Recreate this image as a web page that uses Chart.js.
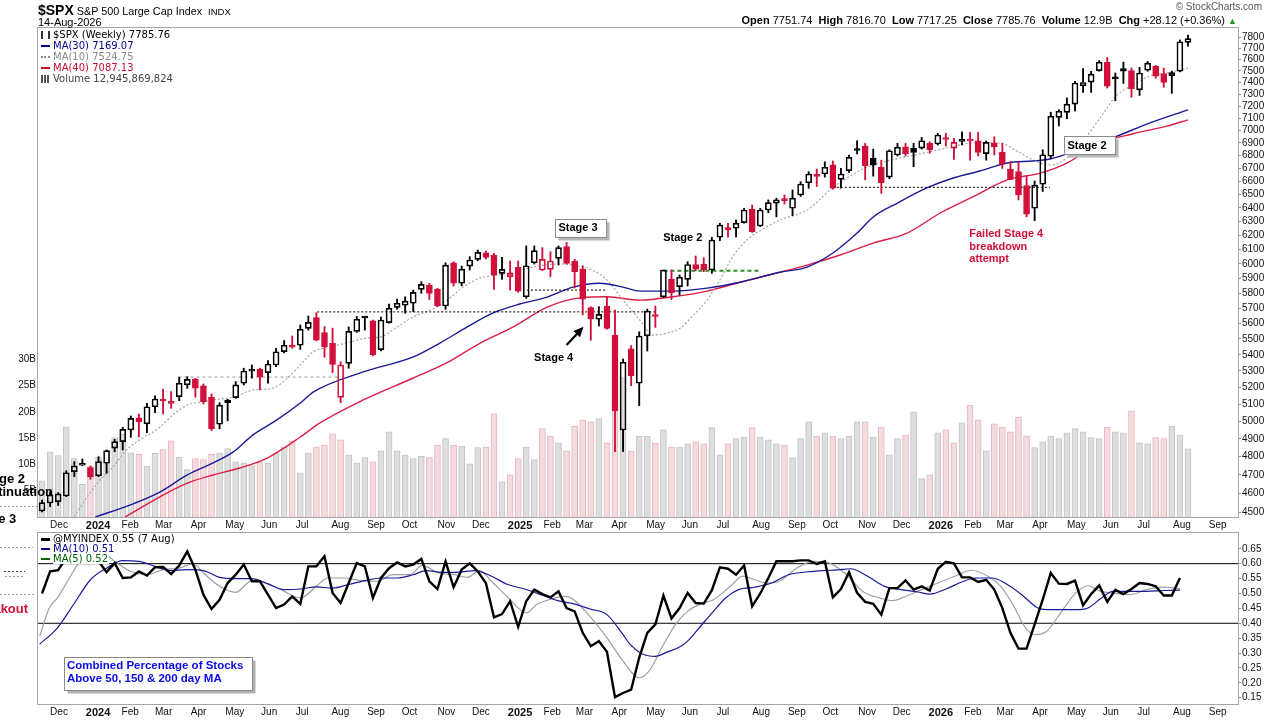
<!DOCTYPE html>
<html>
<head>
<meta charset="utf-8">
<title>$SPX weekly</title>
<script src="https://cdn.jsdelivr.net/npm/chart.js@4.4.1/dist/chart.umd.min.js"></script>
<style>
  html, body { margin: 0; padding: 0; background: #fff; }
  #page { position: relative; width: 1280px; height: 720px; overflow: hidden; font-family: "Liberation Sans", Arial, sans-serif; color: #000; }
  .box { position: absolute; left: 0; width: 1280px; }
  .t { position: absolute; white-space: nowrap; }
  .leg { position: absolute; font-family: "DejaVu Sans", Verdana, sans-serif; font-size: 10px; white-space: nowrap; }
  .leg div { display: flex; align-items: center; }
  .leg .txt { background: #fff; padding-right: 1px; }
  .mk { display: inline-block; width: 9px; height: 0; margin-right: 3px; border-top: 2px solid; }
</style>
</head>
<body>
<div id="page">
  <div class="box" style="top:0;height:532px"><canvas id="priceChart"></canvas></div>
  <div class="box" style="top:520px;height:200px"><canvas id="breadthChart"></canvas></div>

  <div class="t" style="left:38px;top:1px"><b style="font-size:14px">$SPX</b><span style="font-size:10.8px;margin-left:3px">S&amp;P 500 Large Cap Index</span><span style="font-size:9.5px;margin-left:6px">INDX</span></div>
  <div class="t" style="left:38px;top:16px;font-size:11px">14-Aug-2026</div>
  <div class="t" style="right:18px;top:1px;font-size:10px;color:#555">&copy; StockCharts.com</div>
  <div class="t" style="right:43px;top:14px;font-size:11px"><b>Open</b> 7751.74 &nbsp;<b>High</b> 7816.70 &nbsp;<b>Low</b> 7717.25 &nbsp;<b>Close</b> 7785.76 &nbsp;<b>Volume</b> 12.9B &nbsp;<b>Chg</b> +28.12 (+0.36%) <span style="color:#1f9a1f;font-size:9px">&#9650;</span></div>

  <div class="leg" style="left:41px;top:29px;line-height:11px">
    <div><span style="display:inline-block;width:9px;height:8px;margin-right:3px;border-left:2px solid #333;border-right:2px solid #333;box-sizing:border-box"></span><span class="txt">$SPX (Weekly) 7785.76</span></div>
    <div style="color:#00008b"><span class="mk" style="border-color:#00008b"></span><span class="txt">MA(30) 7169.07</span></div>
    <div style="color:#8a8a8a"><span class="mk" style="border-top:2px dotted #8a8a8a"></span><span class="txt">MA(10) 7524.75</span></div>
    <div style="color:#c8102e"><span class="mk" style="border-color:#c8102e"></span><span class="txt">MA(40) 7087.13</span></div>
    <div style="color:#444"><span style="display:inline-block;width:9px;height:8px;margin-right:3px;background:linear-gradient(90deg,#555 0 2px,#fff 2px 3px,#555 3px 5px,#fff 5px 6px,#555 6px 8px,#fff 8px)"></span><span class="txt">Volume 12,945,869,824</span></div>
  </div>

  <div class="leg" style="left:41px;top:534px;line-height:10px">
    <div><span class="mk" style="border-color:#000;border-top-width:3px"></span><span class="txt">@MYINDEX 0.55 (7 Aug)</span></div>
    <div style="color:#00008b"><span class="mk" style="border-color:#00008b"></span><span class="txt">MA(10) 0.51</span></div>
    <div style="color:#006400"><span class="mk" style="border-color:#006400"></span><span class="txt">MA(5) 0.52</span></div>
  </div>
</div>

<script>
// ---- weekly $SPX candles, week 0 = Fri 24 Nov 2023, last = Fri 14 Aug 2026
const firstFriday = Date.UTC(2023, 10, 24);

const opens = [
  4507, 4549, 4556, 4586, 4717, 4752, 4739, 4695, 4763, 4847,
  4884, 4950, 5021, 4985, 5085, 5122, 5115, 5145, 5215, 5251,
  5209, 5141, 4983, 5109, 5139, 5225, 5299, 5311, 5290, 5337,
  5420, 5455, 5460, 5568, 5637, 5540, 5472, 5141, 5347, 5548,
  5640, 5616, 5433, 5605, 5705, 5719, 5732, 5825, 5854, 5825,
  5714, 6007, 5866, 5984, 6031, 6077, 6061, 5934, 5911, 5975,
  5775, 6007, 5957, 5961, 6038, 6120, 6019, 5963, 5703, 5627,
  5714, 5525, 4950, 5437, 5225, 5520, 5652, 5775, 5895, 5843,
  5893, 5995, 5998, 5957, 6187, 6245, 6252, 6292, 6390, 6268,
  6385, 6435, 6462, 6398, 6497, 6590, 6643, 6657, 6727, 6616,
  6683, 6843, 6876, 6779, 6709, 6633, 6805, 6870, 6859, 6859,
  6897, 6892, 6932, 6859, 6913, 6916, 6918, 6815, 6902, 6825,
  6695, 6675, 6569, 6398, 6578, 6795, 7108, 7149, 7218, 7372,
  7404, 7502, 7574, 7440, 7520, 7502, 7338, 7506, 7540, 7478,
  7459, 7497, 7751.74
];
const highs = [
  4565, 4609, 4604, 4722, 4772, 4787, 4748, 4800, 4837, 4897,
  4966, 5031, 5043, 5105, 5149, 5189, 5175, 5262, 5265, 5255,
  5221, 5161, 5109, 5129, 5235, 5317, 5337, 5317, 5364, 5441,
  5490, 5519, 5590, 5648, 5670, 5579, 5569, 5357, 5577, 5645,
  5645, 5622, 5641, 5727, 5760, 5775, 5820, 5877, 5866, 5832,
  6007, 6014, 5984, 6049, 6096, 6089, 6073, 6045, 6019, 6019,
  6125, 6125, 6113, 6084, 6125, 6150, 6031, 5986, 5709, 5709,
  5775, 5687, 5374, 5458, 5546, 5694, 5714, 5957, 5957, 5923,
  6014, 6054, 6042, 6186, 6288, 6288, 6311, 6398, 6422, 6398,
  6460, 6473, 6497, 6535, 6598, 6675, 6695, 6752, 6758, 6700,
  6805, 6918, 6897, 6851, 6764, 6846, 6897, 6897, 6897, 6945,
  6910, 6978, 6978, 6937, 6990, 6985, 6985, 6916, 6950, 6897,
  6752, 6752, 6643, 6603, 6846, 7150, 7171, 7269, 7410, 7520,
  7497, 7591, 7617, 7482, 7577, 7525, 7531, 7583, 7548, 7525,
  7499, 7774, 7816.70
];
const lows = [
  4503, 4530, 4536, 4583, 4690, 4750, 4676, 4690, 4708, 4827,
  4837, 4908, 4911, 4935, 5050, 5043, 5076, 5121, 5195, 5141,
  5101, 4946, 4957, 5003, 5135, 5215, 5256, 5185, 5225, 5326,
  5412, 5441, 5434, 5557, 5488, 5385, 5290, 5109, 5317, 5542,
  5557, 5393, 5424, 5601, 5692, 5666, 5677, 5798, 5757, 5708,
  5692, 5848, 5848, 5957, 6021, 6033, 5825, 5893, 5820, 5805,
  5765, 5998, 5952, 5911, 5991, 5998, 5834, 5655, 5492, 5583,
  5562, 4828, 4828, 5210, 5091, 5424, 5574, 5771, 5757, 5786,
  5848, 5952, 5945, 5934, 6163, 6187, 6190, 6288, 6222, 6263,
  6365, 6335, 6430, 6343, 6486, 6548, 6561, 6633, 6541, 6548,
  6668, 6813, 6612, 6640, 6509, 6620, 6797, 6797, 6713, 6851,
  6818, 6883, 6876, 6770, 6884, 6764, 6797, 6764, 6805, 6700,
  6614, 6460, 6335, 6306, 6524, 6776, 7037, 7096, 7160, 7316,
  7316, 7497, 7353, 7245, 7393, 7275, 7290, 7497, 7437, 7360,
  7308, 7492, 7717.25
];
const closes = [
  4551, 4592, 4597, 4711, 4748, 4763, 4690, 4772, 4833, 4884,
  4954, 5017, 4998, 5085, 5131, 5119, 5105, 5225, 5249, 5195,
  5115, 4957, 5095, 5125, 5215, 5300, 5303, 5262, 5343, 5419,
  5460, 5448, 5562, 5607, 5492, 5451, 5341, 5337, 5549, 5627,
  5635, 5399, 5622, 5699, 5732, 5746, 5805, 5859, 5798, 5715,
  5991, 5866, 5963, 6026, 6080, 6045, 5923, 5961, 5934, 5812,
  5986, 6092, 6031, 6019, 6113, 6003, 5945, 5760, 5629, 5659,
  5568, 5062, 5354, 5271, 5519, 5681, 5645, 5957, 5802, 5907,
  5995, 5963, 5957, 6167, 6275, 6242, 6288, 6385, 6227, 6385,
  6440, 6460, 6455, 6473, 6580, 6657, 6638, 6709, 6548, 6657,
  6786, 6840, 6721, 6725, 6590, 6838, 6867, 6813, 6825, 6918,
  6846, 6964, 6928, 6905, 6932, 6928, 6825, 6905, 6871, 6732,
  6616, 6497, 6355, 6572, 6807, 7117, 7158, 7218, 7396, 7400,
  7473, 7577, 7368, 7432, 7497, 7346, 7482, 7568, 7454, 7401,
  7485, 7757.64, 7785.76
];
// weekly volume, billions of shares
const volumes = [
  6.9, 12.4, 11.7, 17.1, 11.1, 6.2, 9.7, 11.4, 10.3, 15.1,
  15.7, 12.2, 11.9, 9.7, 12.1, 12.8, 14.5, 11.4, 9.0, 11.1,
  10.9, 11.9, 12.2, 13.0, 10.5, 10.3, 9.8, 10.5, 10.2, 12.1,
  13.3, 14.4, 8.4, 12.2, 13.3, 13.7, 15.8, 14.7, 11.8, 10.3,
  11.3, 10.5, 12.6, 16.2, 12.6, 11.8, 11.1, 11.6, 11.3, 13.7,
  14.9, 13.7, 13.5, 10.1, 13.2, 13.3, 19.6, 6.7, 8.0, 11.1,
  13.3, 10.9, 16.8, 15.4, 14.1, 12.6, 17.3, 18.5, 18.1, 18.7,
  14.1, 22.0, 26.5, 12.5, 15.4, 15.4, 14.1, 16.6, 13.3, 13.3,
  13.9, 14.3, 13.9, 17.0, 11.8, 13.9, 14.9, 15.2, 17.0, 15.2,
  14.7, 13.9, 13.7, 11.3, 14.9, 18.1, 15.4, 16.0, 15.4, 14.9,
  15.4, 18.1, 18.1, 15.2, 17.1, 11.8, 14.9, 15.6, 20.0, 7.3,
  8.0, 16.0, 16.6, 14.1, 17.9, 21.3, 18.5, 12.6, 17.7, 17.1,
  16.2, 19.0, 15.4, 13.2, 14.3, 15.4, 14.9, 16.0, 16.8, 16.2,
  15.1, 14.9, 17.1, 16.2, 16.0, 20.2, 14.1, 13.9, 15.1, 14.9,
  17.3, 15.6, 12.95
];

// moving averages: [week, value]
const ma30 = [[6.6,4476],[11.3,4545],[14.6,4607],[18,4699],[21.2,4765],[23.7,4826],[26.1,4921],[29.1,5008],[32,5107],[33.6,5172],[39.8,5294],[46,5387],[49.3,5474],[52.7,5577],[55.9,5668],[59.2,5727],[62.6,5773],[65.8,5840],[69.1,5866],[72,5840],[74.1,5813],[78.2,5813],[82.4,5833],[86.5,5873],[91.4,5941],[94.8,5977],[98,6075],[101,6217],[103,6334],[106,6437],[109.7,6552],[112.9,6626],[116.2,6680],[119.6,6742],[122.8,6758],[124.9,6773],[129,6859],[133.2,6955],[137.3,7062],[142,7169.07]];
const ma10 = [[3.7,4460],[5.6,4582],[7.2,4672],[8.8,4743],[10.5,4839],[12.1,4893],[14.6,4966],[16.2,5037],[18,5095],[19.6,5113],[21.2,5125],[23.7,5143],[26.1,5184],[28.6,5196],[30.4,5257],[32,5337],[33.6,5419],[35.7,5450],[37.8,5475],[40.3,5506],[41.9,5512],[44,5577],[46,5642],[48.1,5687],[50.2,5753],[52.2,5841],[54.3,5902],[56.4,5922],[58.4,5943],[60.8,5977],[63.8,5998],[65.8,5991],[67.9,5963],[70,5889],[72,5753],[74.1,5620],[75.7,5525],[77.4,5537],[79.1,5570],[80.7,5654],[82.4,5753],[84,5889],[85.6,6049],[87.4,6171],[89.8,6261],[91.4,6311],[94.8,6385],[98,6552],[101,6672],[103,6727],[106.3,6781],[108.8,6813],[112.1,6860],[115.4,6900],[118.7,6900],[120.8,6836],[122.8,6766],[124.9,6727],[127,6781],[129,6916],[131.1,7102],[133.2,7293],[135.2,7379],[137.3,7456],[139.4,7482],[142,7524.75]];
const ma40 = [[10.3,4476],[14.6,4582],[18,4655],[21.2,4699],[24.5,4737],[27.9,4792],[32,4910],[34.4,4990],[39.8,5125],[46,5257],[50.2,5351],[54.3,5474],[58.4,5577],[62.6,5707],[66.7,5768],[70,5775],[74.1,5753],[78.2,5775],[82.4,5813],[86.5,5873],[91.4,5941],[94.8,5991],[98.9,6061],[103,6145],[107.2,6217],[111.3,6363],[115.4,6484],[119.6,6611],[123.7,6664],[127,6742],[131.1,6900],[135.2,6974],[139.4,7036],[142,7087.13]];

// horizontal levels drawn on the price panel: [fromWeek, toWeek, price]
const levels = [[16.9, 36.6, 5263], [34.1, 76.0, 5675], [60.1, 69.8, 5820], [77.0, 89.0, 5952], [98.0, 124.9, 6555]];

// lower panel: combined % of stocks above 50/150/200 day MA, weekly to 7 Aug 2026
const myIndex = [
  0.50, 0.574, 0.578, 0.62, 0.635, 0.63, 0.615, 0.608, 0.572, 0.602,
  0.552, 0.554, 0.574, 0.56, 0.588, 0.589, 0.565, 0.594, 0.641, 0.58,
  0.496, 0.448, 0.479, 0.535, 0.563, 0.597, 0.541, 0.541, 0.496, 0.451,
  0.463, 0.49, 0.465, 0.591, 0.591, 0.625, 0.502, 0.468, 0.535, 0.602,
  0.591, 0.485, 0.552, 0.585, 0.604, 0.591, 0.597, 0.616, 0.541, 0.515,
  0.608, 0.521, 0.58, 0.601, 0.574, 0.535, 0.42, 0.431, 0.474, 0.388,
  0.474, 0.513, 0.498, 0.487, 0.507, 0.451, 0.44, 0.368, 0.323, 0.34,
  0.304, 0.152, 0.166, 0.177, 0.285, 0.368, 0.396, 0.493, 0.416, 0.451,
  0.502, 0.468, 0.466, 0.511, 0.588, 0.583, 0.563, 0.594, 0.457, 0.50,
  0.552, 0.608, 0.608, 0.608, 0.611, 0.611, 0.599, 0.608, 0.487, 0.515,
  0.571, 0.502, 0.472, 0.465, 0.429, 0.518, 0.518, 0.544, 0.513, 0.524,
  0.51, 0.583, 0.606, 0.601, 0.554, 0.554, 0.539, 0.546, 0.513, 0.451,
  0.368, 0.315, 0.315, 0.396, 0.479, 0.569, 0.533, 0.532, 0.543, 0.46,
  0.498, 0.527, 0.472, 0.512, 0.498, 0.515, 0.535, 0.532, 0.524, 0.493,
  0.493, 0.552
];
const idxMa10 = [[-0.3,0.33],[1.9,0.384],[3.9,0.463],[6,0.546],[8,0.585],[10,0.61],[12,0.608],[14,0.591],[16,0.577],[18,0.58],[20,0.577],[22,0.554],[24,0.55],[26,0.55],[28,0.532],[30,0.513],[32,0.515],[34,0.522],[36,0.518],[38,0.53],[40,0.543],[42,0.552],[44,0.552],[46,0.563],[47.6,0.577],[49.6,0.571],[51.7,0.572],[53.7,0.577],[55.7,0.558],[57.7,0.53],[59.8,0.515],[61.8,0.496],[63.9,0.476],[65.9,0.465],[67.9,0.448],[70,0.429],[72,0.362],[72.9,0.328],[74.4,0.297],[76,0.289],[77.5,0.304],[79,0.32],[80,0.34],[81.6,0.39],[83.2,0.44],[84.7,0.485],[86.3,0.513],[88.3,0.521],[90.4,0.535],[92.5,0.563],[94.6,0.572],[96.6,0.577],[98.6,0.579],[100.2,0.583],[102.3,0.558],[104.4,0.524],[106.4,0.513],[108.5,0.505],[110,0.498],[112.1,0.516],[114.2,0.541],[115.7,0.552],[117.8,0.552],[119.3,0.535],[121.4,0.496],[123.4,0.451],[124.5,0.446],[126.5,0.446],[128.6,0.446],[129.6,0.451],[131.2,0.483],[132.7,0.507],[134.8,0.507],[136.9,0.507],[139,0.51],[141,0.511]];
const idxMa5 = [[-0.3,0.356],[0.9,0.451],[1.9,0.485],[3.4,0.552],[5,0.619],[7,0.647],[9,0.608],[11,0.574],[13,0.563],[15,0.58],[17,0.585],[18.7,0.599],[20,0.569],[22,0.524],[24,0.504],[26,0.543],[28,0.532],[30,0.507],[32,0.485],[34,0.524],[35.4,0.552],[37.5,0.552],[39.5,0.543],[41.5,0.541],[43.5,0.563],[45.6,0.563],[47.1,0.594],[49.1,0.569],[51.2,0.563],[52.7,0.554],[54.2,0.577],[55.7,0.541],[57.8,0.485],[60,0.435],[61.3,0.463],[62.8,0.479],[64.9,0.49],[65.9,0.479],[67.9,0.423],[70,0.351],[72,0.273],[74,0.217],[75.2,0.239],[77,0.328],[78.5,0.396],[80,0.44],[81.6,0.465],[83.2,0.479],[85.3,0.524],[86.8,0.558],[88.3,0.546],[89.9,0.535],[91.4,0.541],[93.5,0.585],[95.6,0.608],[97.6,0.602],[99.7,0.563],[101.7,0.507],[103.8,0.485],[105.4,0.476],[107,0.49],[109,0.513],[111,0.535],[113.1,0.558],[115.2,0.578],[117.2,0.558],[118.8,0.524],[120.3,0.463],[121.9,0.384],[123.2,0.362],[124.5,0.373],[126.5,0.446],[128.1,0.502],[129.6,0.526],[131.2,0.507],[132.7,0.502],[134.8,0.496],[136.9,0.513],[139,0.521],[141,0.516]];
const idxLevels = [0.6, 0.4];

// axis labels
const monthLabels = ['Dec','2024','Feb','Mar','Apr','May','Jun','Jul','Aug','Sep','Oct','Nov','Dec',
                     '2025','Feb','Mar','Apr','May','Jun','Jul','Aug','Sep','Oct','Nov','Dec',
                     '2026','Feb','Mar','Apr','May','Jun','Jul','Aug','Sep'];
const priceTicks = [4500,4600,4700,4800,4900,5000,5100,5200,5300,5400,5500,5600,5700,5800,5900,6000,6100,
                    6200,6300,6400,6500,6600,6700,6800,6900,7000,7100,7200,7300,7400,7500,7600,7700,7800];
const volTicks = [5, 10, 15, 20, 25, 30];
const idxTicks = [0.15, 0.2, 0.25, 0.3, 0.35, 0.4, 0.45, 0.5, 0.55, 0.6, 0.65];

// ---- styling
const FONT = '"Liberation Sans", Arial, sans-serif';
const RED = '#d0103a';
const NAVY = '#1a1a96';
Chart.defaults.font.family = FONT;

// month k starts on the 1st of (Dec 2023 + k); position in weeks from the first bar
const monthPos = monthLabels.map((_, k) => (Date.UTC(2023, 11 + k, 1) - firstFriday) / (7 * 864e5));
const weeks = closes.map((_, i) => i);
const edge = weeks.map(i => (i > 0 && closes[i] < closes[i - 1]) ? RED : '#000');
const fill = weeks.map(i => closes[i] < opens[i] ? edge[i] : 'rgba(0,0,0,0)');
const volDown = weeks.map(i => i > 0 && closes[i] < closes[i - 1]);

function timeAxis(height) {
  return {
    type: 'linear', min: -0.5, max: 148.2, offset: false,
    grid: { display: false, drawTicks: false }, border: { display: false },
    afterBuildTicks: s => { s.ticks = monthPos.map(v => ({ value: v })); },
    afterFit: s => { s.height = height; },
    ticks: {
      autoSkip: false, maxRotation: 0, minRotation: 0, align: 'start', padding: 2, color: '#111',
      callback: (v, i) => monthLabels[i],
      font: c => /^\d{4}$/.test(monthLabels[c.index]) ? { family: FONT, size: 11, weight: 'bold' } : { family: FONT, size: 10 }
    }
  };
}

function rightAxis(extra) {
  return Object.assign({
    position: 'right',
    afterFit: s => { s.width = 42; },
    grid: { drawOnChartArea: false, drawTicks: true, tickLength: 3, color: '#8c8c8c' },
    border: { display: false }
  }, extra);
}

function lineSet(points, axis, color, width, more) {
  return Object.assign({
    type: 'line', yAxisID: axis, data: points.map(([x, y]) => ({ x, y })),
    borderColor: color, borderWidth: width, pointRadius: 0, fill: false,
    cubicInterpolationMode: 'monotone', order: 3
  }, more || {});
}

// frame, text notes, arrows; positions given in week / value units and placed through the scales
function makeNotes(items) {
  return {
    id: 'notes',
    afterDraw(chart) {
      const { ctx, chartArea: a } = chart;
      const xs = chart.scales.x, ys = chart.scales.y;
      const X = v => xs.getPixelForValue(v), Y = v => ys.getPixelForValue(v);
      ctx.save();
      ctx.strokeStyle = '#a6a6a6';
      ctx.lineWidth = 1;
      ctx.strokeRect(Math.round(a.left) - 0.5, Math.round(a.top) - 0.5, Math.round(a.width) + 1, Math.round(a.height) + 1);
      ctx.textBaseline = 'middle';
      for (const n of items) {
        ctx.font = 'bold ' + (n.size || 11) + 'px ' + FONT;
        if (n.kind === 'dots') {
          const y = Math.round(Y(n.y)) + 0.5;
          ctx.beginPath();
          ctx.setLineDash([2, 2]);
          ctx.strokeStyle = n.color;
          ctx.moveTo(X(n.x0), y); ctx.lineTo(X(n.x1), y);
          ctx.stroke();
          ctx.setLineDash([]);
        } else if (n.kind === 'arrow') {
          const x0 = X(n.x0), y0 = Y(n.y0), x1 = X(n.x1), y1 = Y(n.y1);
          const ang = Math.atan2(y1 - y0, x1 - x0);
          ctx.strokeStyle = '#000'; ctx.fillStyle = '#000'; ctx.lineWidth = 2.2;
          ctx.beginPath(); ctx.moveTo(x0, y0);
          ctx.lineTo(x1 - 6 * Math.cos(ang), y1 - 6 * Math.sin(ang)); ctx.stroke();
          ctx.beginPath(); ctx.moveTo(x1, y1);
          ctx.lineTo(x1 - 10 * Math.cos(ang) + 4.5 * Math.sin(ang), y1 - 10 * Math.sin(ang) - 4.5 * Math.cos(ang));
          ctx.lineTo(x1 - 10 * Math.cos(ang) - 4.5 * Math.sin(ang), y1 - 10 * Math.sin(ang) + 4.5 * Math.cos(ang));
          ctx.closePath(); ctx.fill();
          ctx.lineWidth = 1;
        } else if (n.kind === 'box') {
          const w = ctx.measureText(n.text).width;
          const cx = X(n.x), cy = Y(n.y);
          const l = Math.round(cx - w / 2 - 3) + 0.5, t = Math.round(cy - 9) + 0.5;
          ctx.fillStyle = '#b8b8b8';
          ctx.fillRect(l + 3, t + 3, w + 12, 18);
          ctx.fillStyle = '#fff';
          ctx.fillRect(l, t, w + 12, 18);
          ctx.strokeStyle = '#8a8a8a';
          ctx.strokeRect(l, t, w + 12, 18);
          ctx.fillStyle = '#000';
          ctx.textAlign = 'left';
          ctx.fillText(n.text, l + 3, cy + 0.5);
        } else if (n.kind === 'panel') {
          const l = Math.round(X(n.x0)) + 0.5, r = Math.round(X(n.x1)) + 0.5;
          const t = Math.round(Y(n.y0)) + 0.5, b = Math.round(Y(n.y1)) + 0.5;
          ctx.fillStyle = '#b0b0b0';
          ctx.fillRect(l + 3, t + 3, r - l, b - t);
          ctx.fillStyle = '#fff';
          ctx.fillRect(l, t, r - l, b - t);
          ctx.strokeStyle = '#8a8a8a';
          ctx.strokeRect(l, t, r - l, b - t);
          ctx.fillStyle = n.color;
          ctx.textAlign = 'left';
          n.lines.forEach((s, k) => ctx.fillText(s, l + 2.5, t + 8.5 + k * 13.3));
        } else {
          const lines = n.lines || [n.text];
          ctx.fillStyle = n.color || '#000';
          ctx.textAlign = n.align || 'center';
          lines.forEach((s, k) => ctx.fillText(s, X(n.x), Y(n.y) + k * 12.7));
        }
      }
      ctx.restore();
    }
  };
}

const priceNotes = [
  { kind: 'box', x: 66.4, y: 6254, text: 'Stage 3' },
  { kind: 'text', x: 79.4, y: 6182, text: 'Stage 2' },
  { kind: 'text', x: 63.4, y: 5380, text: 'Stage 4' },
  { kind: 'arrow', x0: 65.0, y0: 5461, x1: 67.1, y1: 5578 },
  { kind: 'text', x: 114.9, y: 6210, lines: ['Failed Stage 4', 'breakdown', 'attempt'], color: RED, align: 'left' },
  { kind: 'box', x: 129.4, y: 6880, text: 'Stage 2' },
  { kind: 'text', x: -2.1, y: 4677, text: 'Stage 2', align: 'right', size: 13 },
  { kind: 'text', x: 1.36, y: 4607, text: 'Continuation', align: 'right', size: 13 },
  { kind: 'text', x: -3.2, y: 4461, text: 'Stage 3', align: 'right', size: 13 },
  { kind: 'dots', x0: -5.2, x1: -0.5, y: 4535, color: '#9a9a9a' }
];
const breadthNotes = [
  { kind: 'panel', x0: 2.76, x1: 26.0, y0: 0.286, y1: 0.177, color: '#0a0ae6', size: 11.5,
    lines: ['Combined Percentage of Stocks', 'Above 50, 150 & 200 day MA'] },
  { kind: 'text', x: -1.73, y: 0.445, text: 'Breakout', align: 'right', color: RED, size: 13 },
  { kind: 'dots', x0: -5.2, x1: -1.1, y: 0.655, color: '#9a9a9a' },
  { kind: 'dots', x0: -4.7, x1: -2.1, y: 0.575, color: '#333' },
  { kind: 'dots', x0: -4.6, x1: -2.1, y: 0.559, color: '#9a9a9a' },
  { kind: 'dots', x0: -5.2, x1: -0.9, y: 0.498, color: '#9a9a9a' }
];

const levelStyles = [
  { color: '#9a9a9a', dash: [3, 3], width: 1 },
  { color: '#000', dash: [2, 2], width: 1 },
  { color: '#000', dash: [2, 2], width: 1 },
  { color: '#2a8f2a', dash: [4, 3], width: 2 },
  { color: '#000', dash: [2, 2], width: 1 }
];

new Chart(document.getElementById('priceChart'), {
  type: 'bar',
  data: {
    datasets: [
      { label: 'bodies', data: weeks.map(i => ({ x: i, y: [opens[i], closes[i]] })), yAxisID: 'y',
        backgroundColor: fill, borderColor: edge, borderWidth: 1, borderSkipped: false,
        barThickness: 6, minBarLength: 2, grouped: false, order: 1 },
      { label: 'upper wick', data: weeks.map(i => ({ x: i, y: [Math.max(opens[i], closes[i]), highs[i]] })), yAxisID: 'y',
        backgroundColor: edge, borderWidth: 0, barThickness: 1.2, grouped: false, order: 2 },
      { label: 'lower wick', data: weeks.map(i => ({ x: i, y: [lows[i], Math.min(opens[i], closes[i])] })), yAxisID: 'y',
        backgroundColor: edge, borderWidth: 0, barThickness: 1.2, grouped: false, order: 2 },
      lineSet(ma30, 'y', NAVY, 1.4),
      lineSet(ma10, 'y', '#a6a6a6', 1.2, { borderDash: [2, 2] }),
      lineSet(ma40, 'y', '#dc1e46', 1.4),
      ...levels.map(([a, b, p], k) => lineSet([[a, p], [b, p]], 'y', levelStyles[k].color, levelStyles[k].width,
        { borderDash: levelStyles[k].dash, cubicInterpolationMode: 'default', order: 2 })),
      { label: 'volume', data: weeks.map(i => ({ x: i, y: volumes[i] })), yAxisID: 'yv',
        backgroundColor: volDown.map(d => d ? '#f3dcde' : '#dedede'),
        borderColor: volDown.map(d => d ? '#e8b5bb' : '#c4c4c4'),
        borderWidth: { top: 1, left: 1, right: 1, bottom: 0 }, borderSkipped: false,
        barThickness: 6, grouped: false, order: 6 }
    ]
  },
  options: {
    responsive: true,
    maintainAspectRatio: false,
    animation: false,
    events: [],
    layout: { padding: { top: 28, left: 0, right: 0, bottom: 0 } },
    plugins: { legend: { display: false }, tooltip: { enabled: false } },
    scales: {
      x: timeAxis(15),
      y: rightAxis({
        type: 'logarithmic', min: 4476, max: 7882,
        afterBuildTicks: s => { s.ticks = priceTicks.map(v => ({ value: v })); },
        ticks: { autoSkip: false, padding: 1, color: '#111', font: { family: FONT, size: 10 }, callback: v => String(v) }
      }),
      yv: {
        type: 'linear', position: 'left', min: 0, max: 93,
        afterBuildTicks: s => { s.ticks = volTicks.map(v => ({ value: v })); },
        afterFit: s => { s.width = 38; },
        grid: { display: false, drawTicks: false }, border: { display: false },
        ticks: { autoSkip: false, padding: 2, color: '#111', font: { family: FONT, size: 10 }, callback: v => v + 'B' }
      }
    }
  },
  plugins: [makeNotes(priceNotes)]
});

new Chart(document.getElementById('breadthChart'), {
  type: 'line',
  data: {
    datasets: [
      lineSet(myIndex.map((v, i) => [i, v]), 'y', '#000', 2.4, { cubicInterpolationMode: 'default', tension: 0, order: 1 }),
      lineSet(idxMa10, 'y', NAVY, 1.2, { order: 2 }),
      lineSet(idxMa5, 'y', '#9aa0a6', 1.2, { order: 3 }),
      ...idxLevels.map(v => lineSet([[-0.5, v], [148.2, v]], 'y', '#000', 1, { cubicInterpolationMode: 'default', order: 4 }))
    ]
  },
  options: {
    responsive: true,
    maintainAspectRatio: false,
    animation: false,
    events: [],
    layout: { padding: { top: 13, left: 38, right: 0, bottom: 0 } },
    plugins: { legend: { display: false }, tooltip: { enabled: false } },
    scales: {
      x: timeAxis(16),
      y: rightAxis({
        type: 'linear', min: 0.129, max: 0.703,
        afterBuildTicks: s => { s.ticks = idxTicks.map(v => ({ value: v })); },
        ticks: { autoSkip: false, padding: 1, color: '#111', font: { family: FONT, size: 10 }, callback: v => v.toFixed(2) }
      })
    }
  },
  plugins: [makeNotes(breadthNotes)]
});
</script>
</body>
</html>
